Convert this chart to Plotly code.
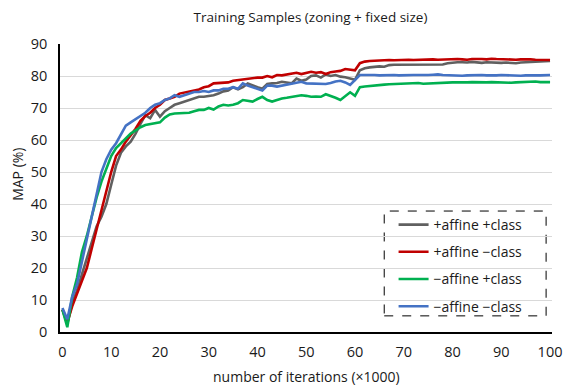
import plotly.graph_objects as go

iterations = list(range(0, 101))

gray_vals = [7, 2.5, 9, 13, 18, 23, 28, 33, 36, 40,
             46, 52, 56, 58, 59.5, 62, 65, 67.8, 66.8, 69.4,
             67.3, 69, 70, 71, 71.5, 72, 72.5, 73, 73.5, 73.5,
             73.7, 74, 74.5, 75.2, 75.5, 76.5, 75.8, 76.5, 77.7, 77,
             76.5, 76, 77.5, 77.7, 77.8, 78.2, 78, 77.7, 79.2, 78.5,
             78.9, 80, 80.2, 79.5, 80.5, 80, 80.3, 79.8, 79.6, 79.2,
             78.8, 81.8, 82.4, 82.7, 82.9, 83, 82.9, 83.4, 83.5, 83.5,
             83.6, 83.5, 83.6, 83.7, 83.5, 83.6, 83.6, 83.5, 83.6, 84.0,
             84.2, 84.3, 84.3, 84.2, 84.4, 84.3, 84.1, 84.3, 84.2, 84.0,
             84.1, 84.2, 84.1, 84.0, 84.2, 84.3, 84.4, 84.3, 84.5, 84.6,
             84.7]

red_vals = [7, 3, 8, 12, 16, 20, 26, 32, 38, 44,
            50, 55, 57, 59.5, 61.5, 63.5, 66, 67.5, 68.5, 70,
            71, 72.5, 73, 73.5, 74.5, 74.8, 75, 75.3, 75.8, 76.5,
            76.8, 77.7, 77.8, 78, 78, 78.5, 78.7, 79, 79.3, 79.3,
            79.5, 79.5, 80, 79.6, 80.3, 80.2, 80.5, 80.8, 81, 80.6,
            81, 81.3, 81, 81.2, 80.6, 81.2, 81.4, 81.6, 82.2, 82,
            81.8, 84, 84.5, 84.7, 84.8, 84.8, 84.9, 85, 84.9, 85,
            85, 85.1, 85, 85.1, 85.2, 85.1, 85.2, 85.1, 85.2, 85.3,
            85.2, 85.3, 85.2, 85.1, 85.3, 85.4, 85.3, 85.2, 85.4, 85.3,
            85.2, 85.3, 85.2, 85.1, 85.2, 85.3, 85.2, 85.1, 85.0, 85.1,
            85.0]

green_vals = [7, 1.5, 11, 17, 25, 30, 36, 42, 47, 51,
              55, 57.5, 59, 60.5, 62, 63, 64, 64.7, 65, 65.2,
              65.5, 67, 68, 68.3, 68.3, 68.3, 68.5, 69, 69.4, 69.4,
              70, 69.5, 70.5, 71, 70.8, 71, 71.5, 72.5, 72.2, 72,
              72.8, 73.5, 72.5, 72, 72.5, 73, 73.2, 73.5, 73.8, 74,
              73.8, 73.5, 73.6, 73.5, 74.3, 73.8, 73.2, 72.5, 73.8, 74.9,
              73.8, 76.5, 76.7, 76.9, 77.1, 77.2, 77.3, 77.4, 77.5, 77.6,
              77.7, 77.6, 77.7, 77.8, 77.6, 77.7, 77.8, 77.9, 78.0, 77.9,
              78.0, 78.0, 77.9, 78.0, 78.1, 78.0, 77.9, 78.0, 78.1, 78.0,
              77.9, 77.8, 77.9, 78.0, 78.1, 78.2, 78.4, 78.3, 78.1, 78.2,
              78.1]

blue_vals = [7.5, 4, 11, 15, 22, 29, 36, 44, 50, 54,
             57, 59, 62, 64.5, 65.5, 66.5, 67.5, 68.5, 70, 71,
             71.5, 72.5, 73, 74, 73.5, 74, 74.5, 75, 75, 75.3,
             75, 75.5, 75.5, 76, 76, 76.5, 76, 77.7, 77, 76.5,
             76, 75.5, 77, 77, 76.7, 77, 77.5, 77.8, 78, 78.2,
             77.7, 77.7, 77.5, 77.5, 77.5, 77.8, 78.3, 78.5, 78, 77.2,
             78.8, 80.3, 80.3, 80.4, 80.3, 80.2, 80.3, 80.4, 80.3, 80.2,
             80.3, 80.2, 80.3, 80.3, 80.2, 80.3, 80.4, 80.5, 80.3, 80.2,
             80.3, 80.2, 80.1, 80.2, 80.3, 80.2, 80.3, 80.2, 80.1, 80.2,
             80.3, 80.2, 80.3, 80.2, 80.1, 80.2, 80.3, 80.2, 80.2, 80.3,
             80.3]

series_names = ["+affine +class", "+affine \u2212class", "\u2212affine +class", "\u2212affine \u2212class"]
series_vals = [gray_vals, red_vals, green_vals, blue_vals]
series_colors = ["#606060", "#C00000", "#00B050", "#4472C4"]

x_ticks = [0, 10, 20, 30, 40, 50, 60, 70, 80, 90, 100]
y_ticks = [0, 10, 20, 30, 40, 50, 60, 70, 80, 90]

FONT = "Open Sans"
TXT = "#1a1a1a"

fig = go.Figure()
for i, (name, vals, col) in enumerate(zip(series_names, series_vals, series_colors)):
    fig.add_trace(go.Scatter(x=iterations, y=vals, mode="lines", name=name,
                             legendgroup=f"g{i}",
                             line=dict(color=col, width=2.6)))

fig.update_layout(
    width=563, height=387,
    margin=dict(l=60, r=11, t=44, b=55, autoexpand=False),
    paper_bgcolor="white", plot_bgcolor="white",
    font=dict(family=FONT, size=14, color=TXT),
    title=dict(text="Training Samples (zoning + fixed size)", x=0.5515, xanchor="center",
               y=0.956, yanchor="middle", font=dict(size=13.5, family=FONT, color=TXT)),
    showlegend=True,
    legend=dict(x=0.678, y=0.427, xanchor="left", yanchor="top",
                bgcolor="rgba(0,0,0,0)", borderwidth=0,
                tracegroupgap=6, itemwidth=30,
                font=dict(size=14, family=FONT, color=TXT)),
    xaxis=dict(range=[-0.5, 100.4], tickmode="array", tickvals=x_ticks,
               showgrid=False, showline=True, linecolor="black", linewidth=1.5,
               ticks="", zeroline=False, ticklabelstandoff=6, automargin=False,
               tickfont=dict(size=14.5)),
    yaxis=dict(range=[0, 90], tickmode="array", tickvals=y_ticks,
               showgrid=True, gridcolor="#D9D9D9", gridwidth=1,
               showline=True, linecolor="black", linewidth=1.5,
               ticks="", zeroline=False, ticklabelstandoff=8, automargin=False,
               tickfont=dict(size=14.5)),
)

fig.add_annotation(text="number of iterations (\u00d71000)", xref="paper", yref="paper",
                   x=0.5, y=-0.156, xanchor="center", yanchor="middle", showarrow=False,
                   font=dict(size=14, family=FONT, color=TXT))
fig.add_annotation(text="MAP (%)", xref="paper", yref="paper", textangle=-90,
                   x=-0.0854, y=0.549, xanchor="center", yanchor="middle", showarrow=False,
                   font=dict(size=14, family=FONT, color=TXT))

fig.add_shape(type="rect", xref="paper", yref="paper",
              x0=0.659, x1=0.988, y0=0.056, y1=0.42,
              line=dict(color="black", width=1, dash="dash"),
              fillcolor="white", layer="below")

fig.write_html("out.html", config={"displayModeBar": False},
               post_script="document.body.style.margin='0';document.body.style.overflow='hidden';")
